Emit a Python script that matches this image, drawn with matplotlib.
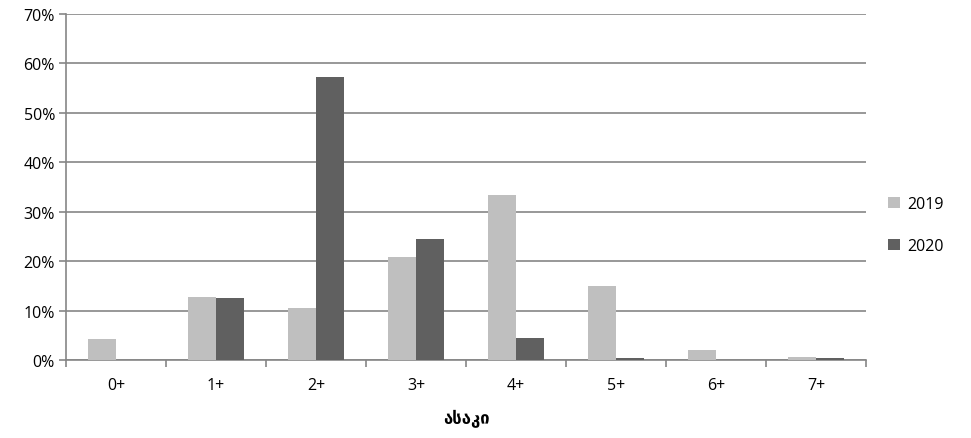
import numpy as np
import matplotlib.pyplot as plt

plt.rcParams['font.family'] = ['Open Sans', 'DejaVu Sans']

# data
categories = ['0+', '1+', '2+', '3+', '4+', '5+', '6+', '7+']
y2019 = [4.3, 12.8, 10.6, 20.9, 33.4, 15.0, 2.1, 0.6]
y2020 = [0.0, 12.6, 57.3, 24.5, 4.5, 0.5, 0.0, 0.4]
series_names = ['2019', '2020']

fig = plt.figure(figsize=(9.71, 4.39), dpi=100)
ax = fig.add_axes([66 / 971, 1 - 361 / 439, 800 / 971, 346 / 439])

x = np.arange(len(categories))
w = 0.28
ax.bar(x - w / 2, y2019, w, color='#BFBFBF', label=series_names[0], zorder=3)
ax.bar(x + w / 2, y2020, w, color='#606060', label=series_names[1], zorder=3)

ax.set_xlim(-0.5, len(categories) - 0.5)
ax.set_ylim(0, 70)
ax.set_yticks(np.arange(0, 71, 10))
ax.set_yticklabels([f'{v}%' for v in range(0, 71, 10)], fontsize=11.5)
ax.yaxis.grid(True, color='#868686', linewidth=1.2, zorder=0)

ax.set_xticks(x)
ax.set_xticklabels(categories, fontsize=11.5)
ax.tick_params(axis='x', length=0, pad=12)
ax.set_xticks(np.arange(-0.5, len(categories), 1), minor=True)
ax.tick_params(axis='x', which='minor', length=5, color='#868686', width=1.2)
ax.tick_params(axis='y', length=5, color='#868686', width=1.2, pad=3)

for side in ['top', 'right']:
    ax.spines[side].set_visible(False)
for side in ['left', 'bottom']:
    ax.spines[side].set_color('#868686')
    ax.spines[side].set_linewidth(1.2)

ax.set_xlabel('ასაკი', fontsize=12, fontweight='bold', family=['DejaVu Sans'], labelpad=12)

ax.legend(loc='center left', bbox_to_anchor=(1.01, 0.39), frameon=False,
          fontsize=11.5, handlelength=0.7, handleheight=0.7, labelspacing=1.6,
          handletextpad=0.5)

fig.savefig('out.png', dpi=100)
